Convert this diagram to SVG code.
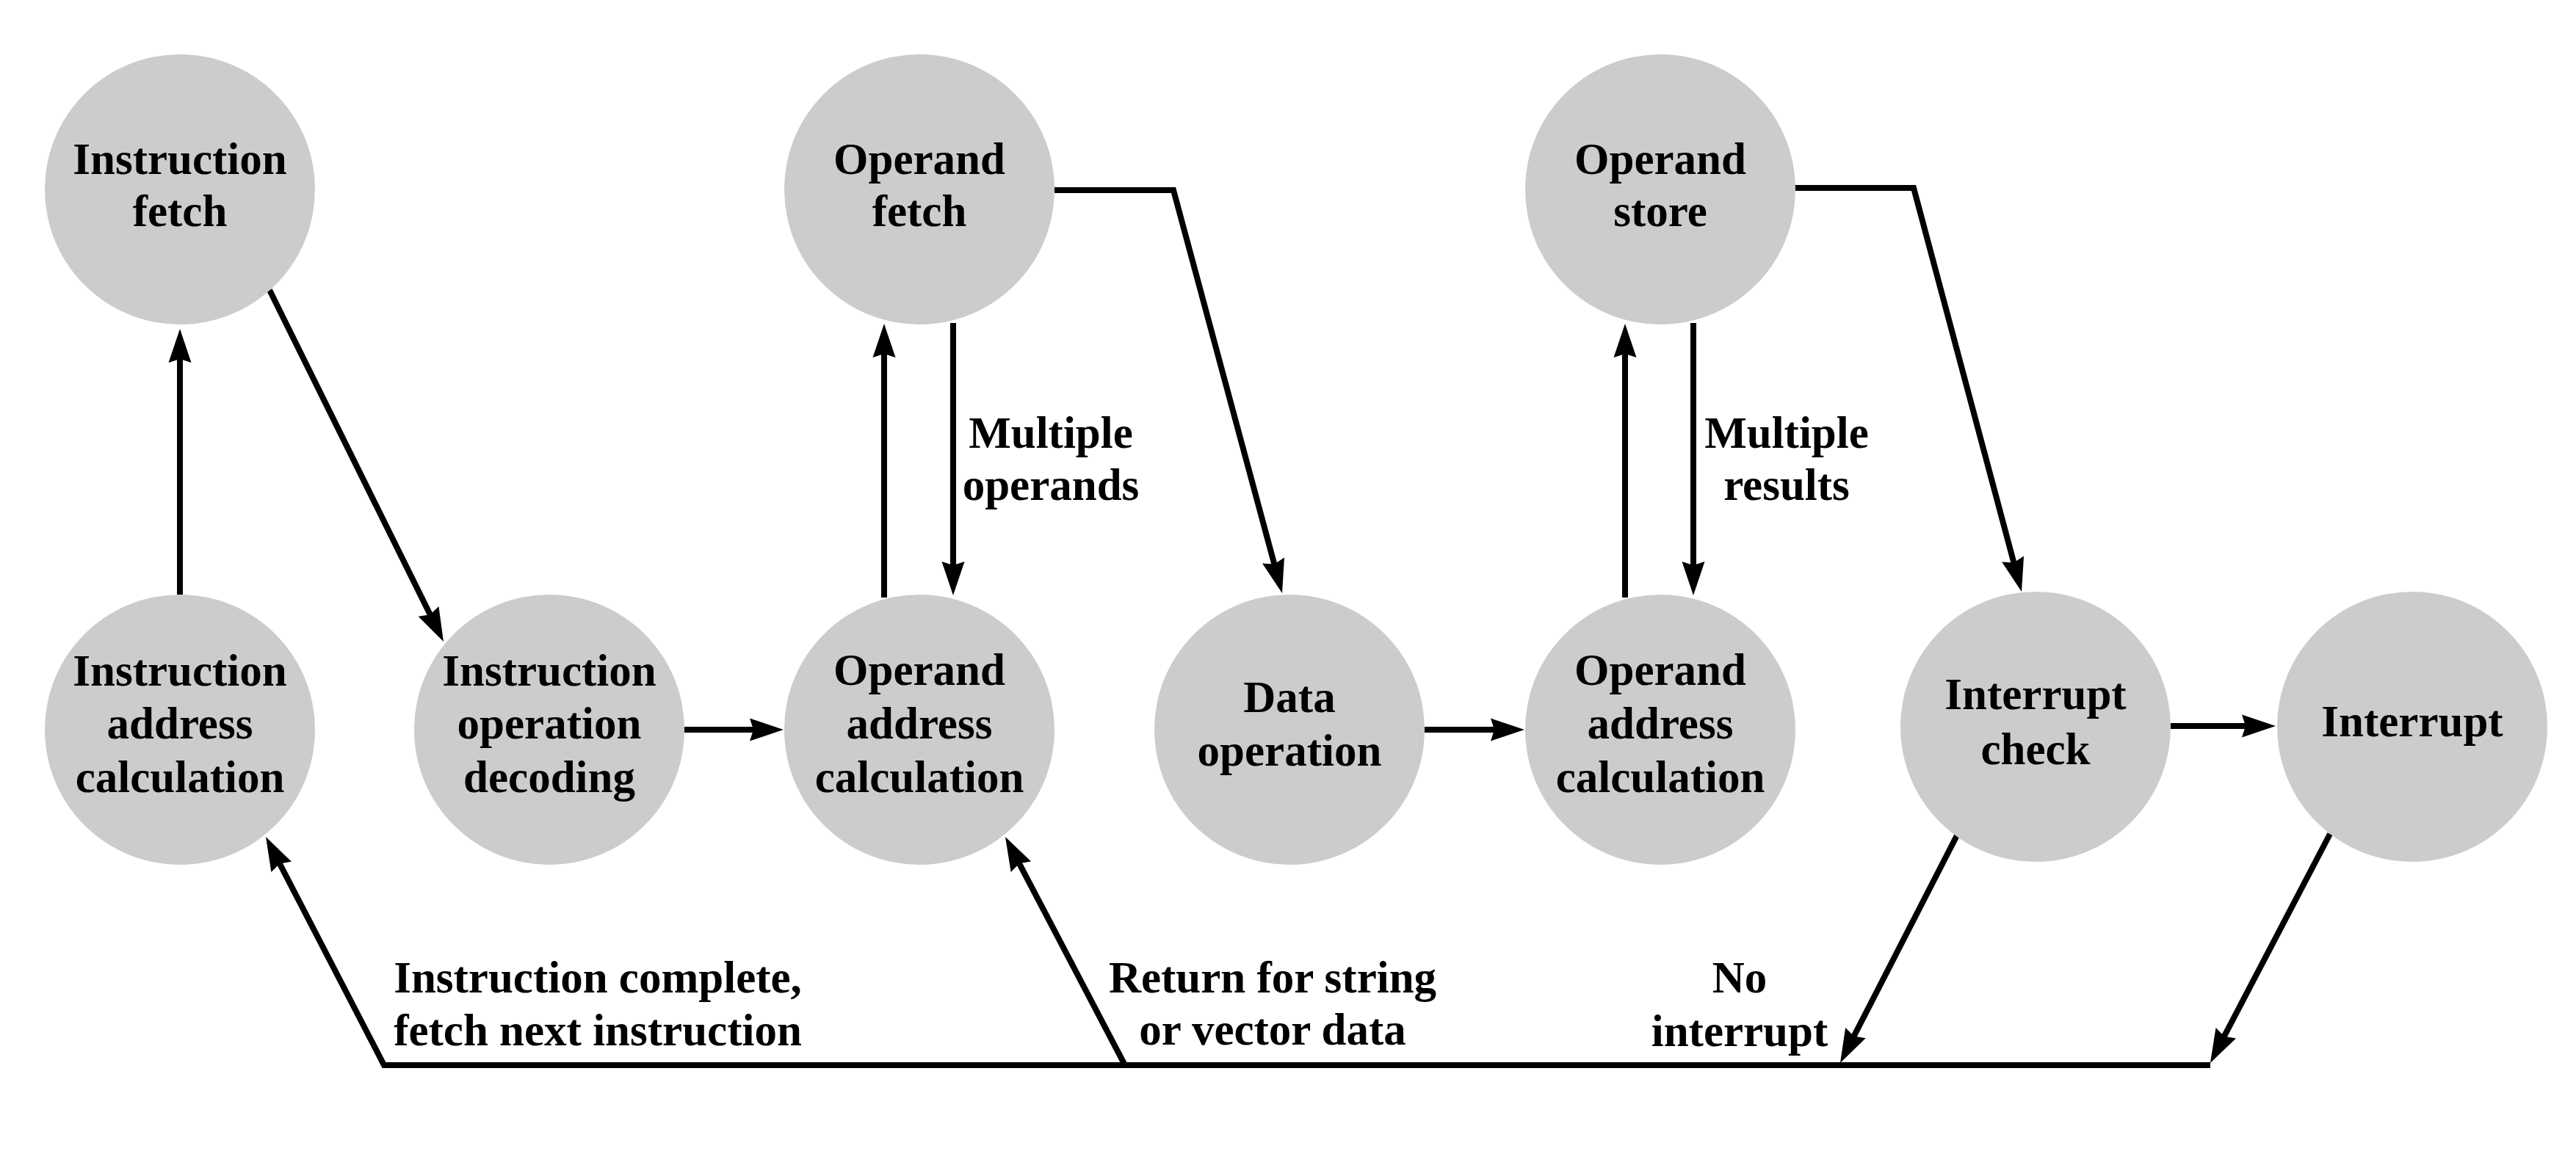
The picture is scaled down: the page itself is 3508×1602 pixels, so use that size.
<svg xmlns="http://www.w3.org/2000/svg" width="3508" height="1602" viewBox="0 0 3508 1602">
<style>
.node circle{fill:#cccccc;stroke:none}
text{font-family:"Liberation Serif","Times New Roman",serif;font-weight:bold;font-size:61px;fill:#000;text-anchor:middle}
.conn path{fill:none;stroke:#000;stroke-width:8;stroke-linejoin:miter}
.arr path{marker-end:url(#ah)}
</style>
<defs>
<marker id="ah" markerUnits="userSpaceOnUse" viewBox="-40 -18 58 36" refX="0" refY="0" markerWidth="58" markerHeight="36" orient="auto" overflow="visible">
<path d="M15,0 L-31,-15.5 L-26,0 L-31,15.5 Z" fill="#000" stroke="none"/>
</marker>
</defs>
<rect width="3508" height="1602" fill="#fff"/>
<g class="conn">
<g class="arr">
<path d="M245,810 L245,463"/>
<path d="M367,395 L597.3,860.6"/>
<path d="M932,994 L1052,994"/>
<path d="M1204,814 L1204,456"/>
<path d="M1298,440 L1298,796"/>
<path d="M1436,259 L1598,259 L1742.1,793.5"/>
<path d="M1940,994 L2061,994"/>
<path d="M2213,814 L2213,456"/>
<path d="M2306,440 L2306,796"/>
<path d="M2444,256 L2606,256 L2749.1,791.5"/>
<path d="M2956,989 L3084,989"/>
<path d="M2666,1136 L2512.8,1434.7"/>
<path d="M3173,1136 L3016.9,1434.7"/>
<path d="M3010,1451 L523,1451 L368.9,1153.3"/>
<path d="M1532,1451 L1376,1153.3"/>
</g>
</g>
<g id="instruction-fetch" class="node"><circle cx="245" cy="258" r="184"/><text x="245" y="237">Instruction</text><text x="245" y="308">fetch</text></g>
<g id="operand-fetch" class="node"><circle cx="1252" cy="258" r="184"/><text x="1252" y="237">Operand</text><text x="1252" y="308">fetch</text></g>
<g id="operand-store" class="node"><circle cx="2261" cy="258" r="184"/><text x="2261" y="237">Operand</text><text x="2261" y="308">store</text></g>
<g id="instruction-address-calculation" class="node"><circle cx="245" cy="994" r="184"/><text x="245" y="934">Instruction</text><text x="245" y="1006">address</text><text x="245" y="1079">calculation</text></g>
<g id="instruction-operation-decoding" class="node"><circle cx="748" cy="994" r="184"/><text x="748" y="934">Instruction</text><text x="748" y="1006">operation</text><text x="748" y="1079">decoding</text></g>
<g id="operand-address-calculation-1" class="node"><circle cx="1252" cy="994" r="184"/><text x="1252" y="933">Operand</text><text x="1252" y="1006">address</text><text x="1252" y="1079">calculation</text></g>
<g id="data-operation" class="node"><circle cx="1756" cy="994" r="184"/><text x="1756" y="970">Data</text><text x="1756" y="1043">operation</text></g>
<g id="operand-address-calculation-2" class="node"><circle cx="2261" cy="994" r="184"/><text x="2261" y="933">Operand</text><text x="2261" y="1006">address</text><text x="2261" y="1079">calculation</text></g>
<g id="interrupt-check" class="node"><circle cx="2772" cy="990" r="184"/><text x="2772" y="966">Interrupt</text><text x="2772" y="1041">check</text></g>
<g id="interrupt" class="node"><circle cx="3285" cy="990" r="184"/><text x="3285" y="1003">Interrupt</text></g>
<g id="labels">
<text x="1431" y="610">Multiple</text><text x="1431" y="681">operands</text>
<text x="2433" y="610">Multiple</text><text x="2433" y="681">results</text>
<text x="814" y="1352">Instruction complete,</text><text x="814" y="1424">fetch next instruction</text>
<text x="1733" y="1352">Return for string</text><text x="1733" y="1423">or vector data</text>
<text x="2369" y="1352">No</text><text x="2369" y="1425">interrupt</text>
</g>
</svg>
